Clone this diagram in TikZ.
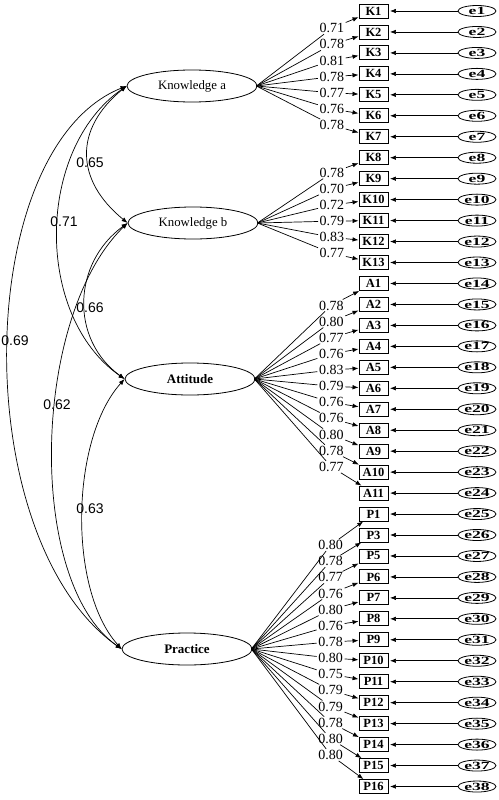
\documentclass[tikz,border=0pt]{standalone}
\usepackage{fontspec}
\usepackage{graphicx}
\setmainfont{Liberation Serif}
\newfontfamily\arialf{Liberation Sans}
\usetikzlibrary{arrows.meta,calc,shapes.geometric}
\begin{document}
\begin{tikzpicture}[x=1pt,y=-1pt,
 lat/.style={ellipse,draw,line width=0.8pt,minimum width=130pt,minimum height=32pt,inner sep=0pt},
 obs/.style={rectangle,draw,line width=0.9pt,minimum width=29pt,minimum height=14pt,inner sep=0pt,font=\fontsize{12.5}{12.5}\selectfont\bfseries},
 err/.style={ellipse,draw,line width=0.8pt,minimum width=38pt,minimum height=11pt,inner sep=0pt,font=\fontsize{11}{11}\selectfont\bfseries},
 arr/.style={line width=0.7pt,-{Latex[length=6pt,width=4.5pt]}},
 ln/.style={line width=0.7pt},
 dbl/.style={line width=0.7pt,{Latex[length=6pt,width=4.5pt]}-{Latex[length=6pt,width=4.5pt]}},
 lab/.style={inner xsep=1.5pt,inner ysep=1pt,font=\fontsize{14}{14}\selectfont},
 cor/.style={inner sep=0pt,font=\arialf\fontsize{14}{14}\selectfont}]
\useasboundingbox (0,0) rectangle (498,800);

% latent variables
\node[lat,font=\fontsize{12.8}{12.8}\selectfont] (ka) at (192,86) {Knowledge a};
\node[lat,font=\fontsize{12.8}{12.8}\selectfont] (kb) at (193,223) {Knowledge b};
\node[lat,font=\fontsize{13}{13}\selectfont\bfseries] (att) at (190,379) {Attitude};
\node[lat,font=\fontsize{13}{13}\selectfont\bfseries] (pr) at (187,649) {Practice};

% observed variables and error terms
\foreach \n [count=\i] in {K1,K2,K3,K4,K5,K6,K7,K8,K9,K10,K11,K12,K13,A1,A2,A3,A4,A5,A6,A7,A8,A9,A10,A11,P1,P3,P5,P6,P7,P8,P9,P10,P11,P12,P13,P14,P15,P16} {
  \pgfmathsetmacro\yy{11+20.96*(\i-1)}
  \node[obs] (\n) at (373.5,\yy) {\n};
  \node[err] (er\i) at (477,\yy) {\scalebox{1.6}[1]{e\i}};
  \draw[arr,shorten >=1.5pt] (er\i) -- (\n);
}

% loadings: latent -> label -> indicator
\foreach \lat/\n/\v in {ka/K1/0.71,ka/K2/0.78,ka/K3/0.81,ka/K4/0.78,ka/K5/0.77,ka/K6/0.76,ka/K7/0.78,
  kb/K8/0.78,kb/K9/0.70,kb/K10/0.72,kb/K11/0.79,kb/K12/0.83,kb/K13/0.77,
  att/A1/0.78,att/A2/0.80,att/A3/0.77,att/A4/0.76,att/A5/0.83,att/A6/0.79,att/A7/0.76,att/A8/0.76,att/A9/0.80,att/A10/0.78,att/A11/0.77,
  pr/P1/0.80,pr/P3/0.78,pr/P5/0.77,pr/P6/0.76,pr/P7/0.80,pr/P8/0.76,pr/P9/0.78,pr/P10/0.80,pr/P11/0.75,pr/P12/0.79,pr/P13/0.79,pr/P14/0.78,pr/P15/0.80,pr/P16/0.80} {
  \node[lab] (L\n) at ($(\lat.center)!0.77!(\n.center)$) {\v};
  \draw[ln] ([xshift=-1pt]\lat.east) -- (L\n);
  \draw[arr] (L\n) -- (\n);
}

% correlations
\draw[dbl] (ka.west) .. controls +(-52.7,43) and +(-52.7,-43) .. (kb.west);
\draw[dbl] (ka.west) .. controls +(-90.7,63) and +(-90.7,-63) .. (att.west);
\draw[dbl] (ka.west) .. controls +(-155,62) and +(-155,-110) .. (pr.west);
\draw[dbl] (kb.west) .. controls +(-55,40) and +(-55,-40) .. (att.west);
\draw[dbl] (kb.west) .. controls +(-96,93) and +(-96,-67) .. (pr.west);
\draw[dbl] (att.west) .. controls +(-54,60) and +(-54,-60) .. (pr.west);

\node[cor] (c1) at (90,163) {0.65};
\node[cor] (c2) at (64,222) {0.71};
\node[cor] (c3) at (15,341) {0.69};
\node[cor] (c4) at (90,308) {0.66};
\node[cor] (c5) at (57,405) {0.62};
\node[cor] (c6) at (90,509) {0.63};
\end{tikzpicture}
\end{document}
